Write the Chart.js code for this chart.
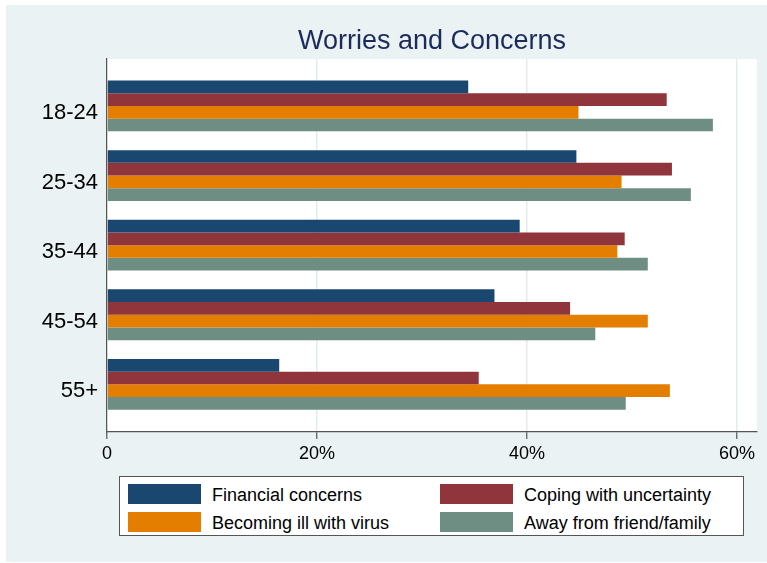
<!DOCTYPE html>
<html>
<head>
<meta charset="utf-8">
<title>Worries and Concerns</title>
<script src="https://cdn.jsdelivr.net/npm/chart.js@4"></script>
<style>
  body { margin: 0; background: #fff; font-family: "Liberation Sans", Arial, Helvetica, sans-serif; }
  #wrap { position: relative; width: 767px; height: 563px; }
  #myChart { display: block; }
  #legend {
    position: absolute; left: 119px; top: 476px; width: 625px; height: 60px;
    background: #fff; border: 1px solid #555; box-sizing: border-box;
  }
  .item { position: absolute; height: 20px; }
  .swatch { position: absolute; left: 0; top: 0; width: 73px; height: 20px; }
  .label { position: absolute; left: 84px; top: 1px; font-size: 18px; line-height: 20px; color: #000; white-space: nowrap; }
</style>
</head>
<body>
<div id="wrap">
  <canvas id="myChart" width="767" height="563"></canvas>
  <div id="legend"></div>
</div>
<script>
// age groups, top to bottom
var ages = ["18-24", "25-34", "35-44", "45-54", "55+"];

// percent of respondents
var financial = [34.4, 44.7, 39.3, 36.9, 16.4];
var coping = [53.3, 53.8, 49.3, 44.1, 35.4];
var illVirus = [44.9, 49.0, 48.6, 51.5, 53.6];
var awayFamily = [57.7, 55.6, 51.5, 46.5, 49.4];

var xTicks = [0, 20, 40, 60];

var seriesNames = ["Financial concerns", "Coping with uncertainty", "Becoming ill with virus", "Away from friend/family"];
var seriesColors = ["#1a476f", "#90353b", "#e37e00", "#6e8e84"];

function toPoints(values) {
  return values.map(function (v, i) {
    return { x: v, y: i };
  });
}

// light bluish graph region + white plot region behind everything
var backgrounds = {
  id: "backgrounds",
  beforeDraw: function (chart) {
    var ctx = chart.ctx;
    var a = chart.chartArea;
    ctx.save();
    ctx.fillStyle = "#eaf2f3";
    ctx.fillRect(6, 5, 761, 557);
    ctx.fillStyle = "#ffffff";
    ctx.fillRect(a.left, a.top, a.right - a.left, a.bottom - a.top);
    ctx.restore();
  }
};

var datasets = [financial, coping, illVirus, awayFamily].map(function (vals, k) {
  return {
    label: seriesNames[k],
    data: toPoints(vals),
    backgroundColor: seriesColors[k],
    borderWidth: 0,
    barPercentage: 1.0,
    categoryPercentage: 0.73
  };
});

var ctx = document.getElementById("myChart");
var chart = new Chart(ctx, {
  type: "bar",
  data: { datasets: datasets },
  plugins: [backgrounds],
  options: {
    responsive: false,
    animation: false,
    indexAxis: "y",
    layout: { padding: { left: 0, right: 10, top: 0, bottom: 0 } },
    plugins: {
      legend: { display: false },
      tooltip: { enabled: false },
      title: {
        display: true,
        fullSize: false,
        text: "Worries and Concerns",
        color: "#1c2b5a",
        font: { family: "'Liberation Sans', Arial, sans-serif", size: 27, weight: "normal", lineHeight: 1.2 },
        padding: { top: 25, bottom: 1.6 }
      }
    },
    scales: {
      x: {
        type: "linear",
        position: "bottom",
        bounds: "data",
        min: 0,
        max: 61.9,
        afterBuildTicks: function (scale) {
          scale.ticks = xTicks.map(function (v) { return { value: v }; });
        },
        afterFit: function (scale) {
          scale.height = 131;
        },
        grid: {
          color: "#e2ebed",
          lineWidth: 1.5,
          drawTicks: true,
          tickLength: 7,
          tickColor: "#555",
          tickWidth: 1.2
        },
        border: { display: true, color: "#555", width: 1.2 },
        ticks: {
          padding: 4,
          color: "#000",
          font: { family: "'Liberation Sans', Arial, sans-serif", size: 18 },
          callback: function (v) {
            return v === 0 ? "0" : v + "%";
          }
        }
      },
      y: {
        type: "linear",
        reverse: true,
        offset: false,
        bounds: "data",
        min: -0.675,
        max: 4.685,
        afterBuildTicks: function (scale) {
          scale.ticks = ages.map(function (a, i) { return { value: i }; });
        },
        afterFit: function (scale) {
          scale.width = 107;
        },
        grid: { display: false, drawTicks: false, offset: false },
        border: { display: true, color: "#555", width: 1.2 },
        ticks: {
          padding: 9,
          labelOffset: 7,
          color: "#000",
          font: { family: "'Liberation Sans', Arial, sans-serif", size: 22 },
          callback: function (v) {
            return ages[v];
          }
        }
      }
    }
  }
});

// legend in two fixed columns, like the original
function buildLegend(chart) {
  var box = document.getElementById("legend");
  var colX = [8, 320];
  var rowY = [7, 34.5];
  // left col = Financial, Becoming ill; right col = Coping, Away
  var slots = [[0, 0], [1, 0], [0, 1], [1, 1]];
  chart.data.datasets.forEach(function (ds, i) {
    var item = document.createElement("div");
    item.className = "item";
    item.style.left = colX[slots[i][0]] + "px";
    item.style.top = rowY[slots[i][1]] + "px";
    var sw = document.createElement("span");
    sw.className = "swatch";
    sw.style.background = ds.backgroundColor;
    var tx = document.createElement("span");
    tx.className = "label";
    tx.textContent = ds.label;
    item.appendChild(sw);
    item.appendChild(tx);
    box.appendChild(item);
  });
}
buildLegend(chart);
</script>
</body>
</html>
